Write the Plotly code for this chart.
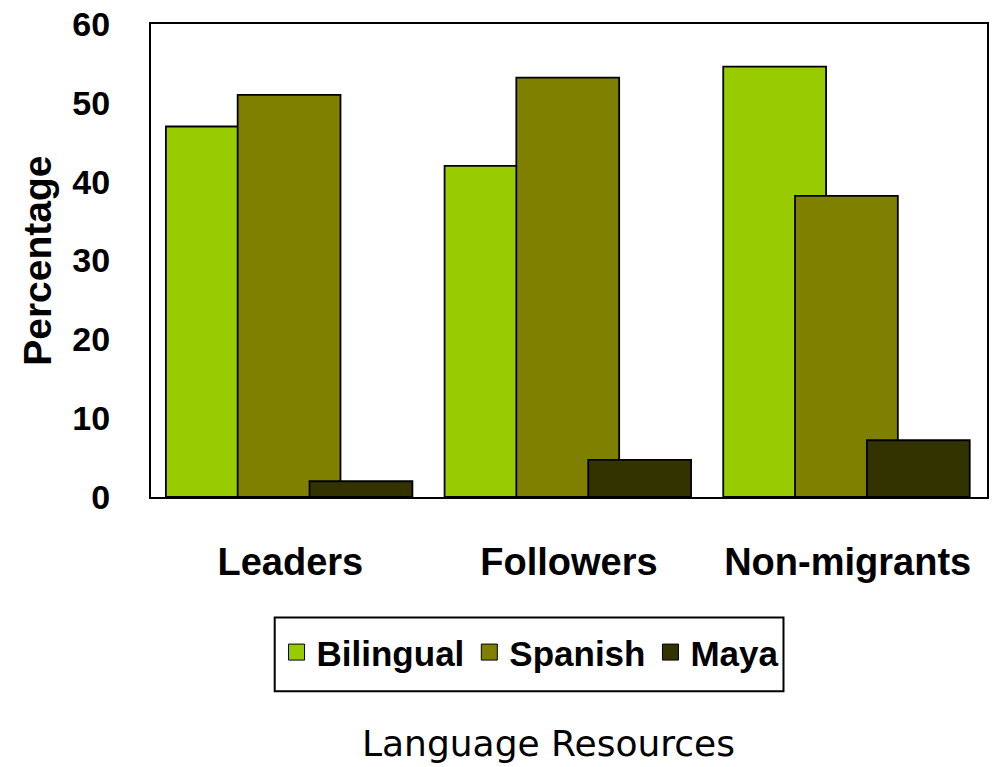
import plotly.graph_objects as go

categories = ["Leaders", "Followers", "Non-migrants"]
series_names = ["Bilingual", "Spanish", "Maya"]
bilingual = [47, 42, 54.6]
spanish = [51, 53.2, 38.2]
maya = [2, 4.7, 7.2]
y_ticks = [0, 10, 20, 30, 40, 50, 60]

colors = ["#99CC00", "#808000", "#333300"]
values = [bilingual, spanish, maya]

BAR_W = 0.369
OFFSETS = [-0.4465, -0.189, 0.069]

fig = go.Figure()
for name, vals, col, off in zip(series_names, values, colors, OFFSETS):
    fig.add_trace(go.Bar(
        x=categories, y=vals, name=name,
        marker=dict(color=col, line=dict(color="black", width=1.8)),
        width=BAR_W, offset=off, showlegend=False,
    ))
# legend entries
for name, col in zip(series_names, colors):
    fig.add_trace(go.Scatter(
        x=[None], y=[None], mode="markers", name=name,
        marker=dict(symbol="square", size=22, color=col, line=dict(color="black", width=1)),
    ))

bold = "Liberation Sans"
fig.update_layout(
    width=994, height=767,
    margin=dict(l=151, r=5, t=22, b=270),
    plot_bgcolor="white", paper_bgcolor="white",
    barmode="overlay",
    font=dict(family=bold, color="black"),
    showlegend=True,
    legend=dict(
        orientation="h", x=0.454, xanchor="center", y=-0.3284, yanchor="middle",
        borderwidth=0, bgcolor="rgba(0,0,0,0)",
        font=dict(family=bold, size=35, weight="bold"),
        itemsizing="trace", itemwidth=30, tracegroupgap=0,
    ),
    shapes=[
        dict(type="rect", xref="paper", yref="paper",
             x0=(275 - 151) / 838, x1=(785 - 151) / 838,
             y0=(497 - 692) / 475, y1=(497 - 618) / 475,
             line=dict(color="black", width=2), fillcolor="rgba(0,0,0,0)", layer="below"),
    ],
    xaxis=dict(
        showline=True, linecolor="black", linewidth=2, mirror=True,
        showgrid=False, ticks="", ticklabelstandoff=30,
        tickfont=dict(size=38, weight="bold"),
        range=[-0.5, 2.5],
    ),
    yaxis=dict(
        showline=True, linecolor="black", linewidth=2, mirror=True,
        showgrid=False, zeroline=False, range=[0, 60],
        tickvals=y_ticks, ticks="", ticklabelstandoff=32,
        tickfont=dict(size=34, weight="bold"),
    ),
    annotations=[
        dict(text="Percentage", textangle=-90, xref="paper", yref="paper",
             x=-0.136, y=0.5, xanchor="center", yanchor="middle", showarrow=False,
             font=dict(size=39, weight="bold", family=bold)),
        dict(text="Language Resources", xref="paper", yref="paper",
             x=0.476, y=-0.522, xanchor="center", yanchor="middle", showarrow=False,
             font=dict(size=36, family="DejaVu Sans")),
    ],
)

fig.write_html("out.html", config={"displayModeBar": False},
               post_script="document.body.style.margin='0';")
